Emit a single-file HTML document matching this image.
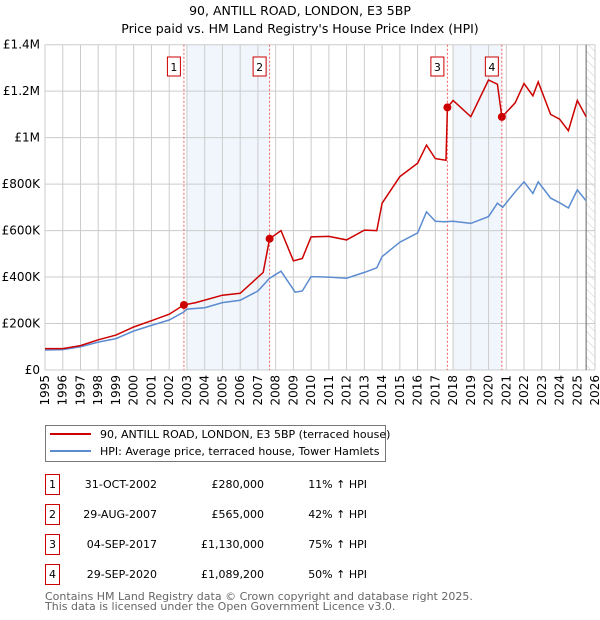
<!DOCTYPE html>
<html><head><meta charset="utf-8"><style>
body{margin:0;background:#fff;font-family:"DejaVu Sans","Liberation Sans",sans-serif;}
#wrap{position:relative;width:600px;height:620px;overflow:hidden}
svg text{font-family:"DejaVu Sans","Liberation Sans",sans-serif}
</style></head><body><div id="wrap">
<svg id="c" width="600" height="620"></svg>
</div>
<script>
const years=[1995,1996,1997,1998,1999,2000,2001,2002,2003,2004,2005,2006,2007,2008,2009,2010,2011,2012,2013,2014,2015,2016,2017,2018,2019,2020,2021,2022,2023,2024,2025,2026];
const yTicks=[0,200000,400000,600000,800000,1000000,1200000,1400000];
const yTickLabels=["£0","£200K","£400K","£600K","£800K","£1M","£1.2M","£1.4M"];
const hpiDates=[1995,1996,1997,1998,1999,2000,2001,2002,2002.83,2003,2004,2005,2006,2007,2007.66,2008.3,2009.1,2009.5,2010,2011,2012,2013,2013.7,2014,2015,2016,2016.5,2017,2017.5,2018,2019,2020,2020.5,2020.8,2021.5,2022,2022.5,2022.8,2023.5,2024,2024.5,2025,2025.5];
const hpiValues=[86000,88000,100000,120000,135000,168000,192000,215000,250000,262000,268000,290000,300000,340000,395000,425000,335000,340000,402000,400000,395000,420000,440000,488000,550000,590000,681000,640000,638000,640000,631000,660000,718000,700000,767000,810000,760000,810000,740000,720000,697000,775000,728000];
const priceDates=[1995,1996,1997,1998,1999,2000,2001,2002,2002.83,2003.5,2005,2006,2007.3,2007.66,2008.3,2009,2009.5,2010,2011,2012,2013,2013.7,2014,2015,2016,2016.5,2017,2017.6,2017.68,2018,2019,2020,2020.5,2020.75,2021.5,2022,2022.5,2022.8,2023.5,2024,2024.5,2025,2025.5];
const priceValues=[92000,92000,105000,130000,150000,185000,212000,240000,280000,290000,322000,330000,420000,565000,600000,470000,480000,573000,575000,560000,602000,600000,718000,832000,890000,968000,910000,903000,1130000,1160000,1090000,1248000,1230000,1089000,1150000,1233000,1180000,1240000,1100000,1080000,1030000,1160000,1090000];
const saleDates=[2002.83,2007.66,2017.68,2020.75];
const saleValues=[280000,565000,1130000,1089200];
const saleLabels=["1","2","3","4"];
const saleDateText=["31-OCT-2002","29-AUG-2007","04-SEP-2017","29-SEP-2020"];
const salePriceText=["£280,000","£565,000","£1,130,000","£1,089,200"];
const saleHpiText=["11% ↑ HPI","42% ↑ HPI","75% ↑ HPI","50% ↑ HPI"];

const X0=45,X1=595,Y0=370,Y1=44.7;
const xs=y=>X0+(y-1995)/(2026-1995)*(X1-X0);
const ys=v=>Y0-(v/1400000)*(Y0-Y1);
const svg=document.getElementById('c');const NS='http://www.w3.org/2000/svg';
function mk(t,a,p){const e=document.createElementNS(NS,t);for(const k in a)e.setAttribute(k,a[k]);(p||svg).appendChild(e);return e;}

let e;
e=mk('text',{x:300,y:15,'text-anchor':'middle','font-size':12.5,fill:'#000'});e.textContent='90, ANTILL ROAD, LONDON, E3 5BP';


e=mk('text',{x:300,y:33,'text-anchor':'middle','font-size':12.5,fill:'#000'});e.textContent="Price paid vs. HM Land Registry's House Price Index (HPI)";



// shading
const shades=[[2003,saleDates[1]],[2018,saleDates[3]]];
shades.forEach(s=>{e=mk('rect',{x:xs(s[0]),y:Y1,width:xs(s[1])-xs(s[0]),height:Y0-Y1,fill:'#eef2fb',opacity:0.8});

});
// hatch
const defs=mk('defs',{});const pat=mk('pattern',{id:'h',width:6,height:6,patternUnits:'userSpaceOnUse',patternTransform:'rotate(-45)'},defs);
mk('line',{x1:0,y1:0,x2:0,y2:6,stroke:'#ccc','stroke-width':1},pat);
e=mk('rect',{x:xs(2025.5),y:Y1,width:X1-xs(2025.5),height:Y0-Y1,fill:'url(#h)'});



// grid
years.forEach(y=>{e=mk('line',{x1:xs(y),x2:xs(y),y1:Y1,y2:Y0,stroke:'#ccc','stroke-width':1});


e=mk('text',{transform:`translate(${xs(y)+4},${Y0+5}) rotate(-90)`,'text-anchor':'end','font-size':12,fill:'#000'});e.textContent=y;

});
yTicks.forEach((v,i)=>{e=mk('line',{x1:X0,x2:X1,y1:ys(v),y2:ys(v),stroke:'#ccc','stroke-width':1});


e=mk('text',{x:X0-5,y:ys(v)+4,'text-anchor':'end','font-size':12,fill:'#000'});e.textContent=yTickLabels[i];

});
e=mk('line',{x1:xs(2025.5),x2:xs(2025.5),y1:Y1,y2:Y0,stroke:'#666','stroke-width':1});



// sale lines
saleDates.forEach((d,i)=>{e=mk('line',{x1:xs(d),x2:xs(d),y1:Y1,y2:Y0,stroke:'#f06060','stroke-width':1,'stroke-dasharray':'2,2'});


e=mk('rect',{x:xs(d)-16.5,y:57,width:13,height:19,fill:'#fff',stroke:'#c00','stroke-width':1});


e=mk('text',{x:xs(d)-10,y:71,'text-anchor':'middle','font-size':11,fill:'#000'});e.textContent=saleLabels[i];

});

function path(dx,dv){return dx.map((d,i)=>(i?'L':'M')+xs(d).toFixed(1)+','+ys(dv[i]).toFixed(1)).join('');}
e=mk('path',{d:path(hpiDates,hpiValues),fill:'none',stroke:'#5b8bd0','stroke-width':1.5});


e=mk('path',{d:path(priceDates,priceValues),fill:'none',stroke:'#cc0000','stroke-width':1.5});


saleDates.forEach((d,i)=>{e=mk('circle',{cx:xs(d),cy:ys(saleValues[i]),r:4,fill:'#cc0000'});

});

// legend
e=mk('rect',{x:45.5,y:425.5,width:340,height:36,fill:'#fff',stroke:'#777','stroke-width':1});


mk('line',{x1:50,x2:91,y1:434,y2:434,stroke:'#cc0000','stroke-width':2});
e=mk('text',{x:100,y:438,'font-size':11,fill:'#000'});e.textContent='90, ANTILL ROAD, LONDON, E3 5BP (terraced house)';


mk('line',{x1:50,x2:91,y1:451,y2:451,stroke:'#5b8bd0','stroke-width':2});
e=mk('text',{x:100,y:455,'font-size':11,fill:'#000'});e.textContent='HPI: Average price, terraced house, Tower Hamlets';



// table
saleLabels.forEach((l,i)=>{const cy=483+i*30;
e=mk('rect',{x:45.5,y:cy-8.5,width:14,height:20,fill:'#fff',stroke:'#c00','stroke-width':1});


e=mk('text',{x:52.5,y:cy+5,'text-anchor':'middle','font-size':11,fill:'#000'});e.textContent=l;


e=mk('text',{x:157,y:cy+5,'text-anchor':'end','font-size':11,fill:'#000'});e.textContent=saleDateText[i];


e=mk('text',{x:264,y:cy+5,'text-anchor':'end','font-size':11,fill:'#000'});e.textContent=salePriceText[i];


e=mk('text',{x:367,y:cy+5,'text-anchor':'end','font-size':11,fill:'#000'});e.textContent=saleHpiText[i];

});
e=mk('text',{x:45,y:600,'font-size':11,fill:'#666'});e.textContent='Contains HM Land Registry data © Crown copyright and database right 2025.';


e=mk('text',{x:45,y:610,'font-size':11,fill:'#666'});e.textContent='This data is licensed under the Open Government Licence v3.0.';


</script></body></html>
